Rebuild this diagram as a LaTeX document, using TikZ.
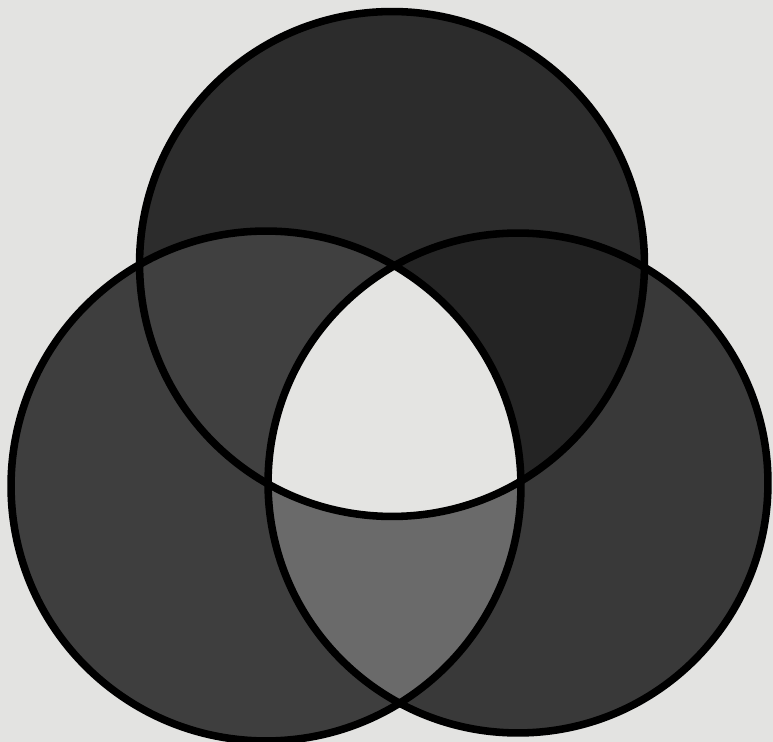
\documentclass[tikz,border=0pt]{standalone}
\usetikzlibrary{backgrounds}

\definecolor{paper}{HTML}{E3E3E1}
\definecolor{topshade}{HTML}{2C2C2C}
\definecolor{leftshade}{HTML}{3E3E3E}
\definecolor{rightshade}{HTML}{393939}
\definecolor{topleft}{HTML}{404040}
\definecolor{topright}{HTML}{242424}
\definecolor{bottomlens}{HTML}{6A6A6A}
\definecolor{middle}{HTML}{E4E4E2}

\newcommand{\topdisc}{(top) circle[radius=5.05cm]}
\newcommand{\leftdisc}{(left) circle[radius=5.1cm]}
\newcommand{\rightdisc}{(right) circle[radius=5cm]}

\begin{document}
\begin{tikzpicture}[
  x=0.02cm,y=-0.02cm,
  rim/.style={draw=black,line width=4.3pt}
]
\useasboundingbox[fill=paper] (0,0) rectangle (773,742);
\coordinate (top) at (392,264);
\coordinate (left) at (266,486);
\coordinate (right) at (518,483);
% single discs
\fill[leftshade] \leftdisc;
\fill[rightshade] \rightdisc;
\fill[topshade] \topdisc;
% overlaps of two
\begin{scope}
  \clip \topdisc;
  \fill[topleft] \leftdisc;
  \fill[topright] \rightdisc;
\end{scope}
\begin{scope}
  \clip \leftdisc;
  \fill[bottomlens] \rightdisc;
\end{scope}
% overlap of all three
\begin{scope}
  \clip \topdisc;
  \clip \leftdisc;
  \fill[middle] \rightdisc;
\end{scope}
% outlines
\draw[rim] \leftdisc;
\draw[rim] \rightdisc;
\draw[rim] \topdisc;
\end{tikzpicture}
\end{document}
